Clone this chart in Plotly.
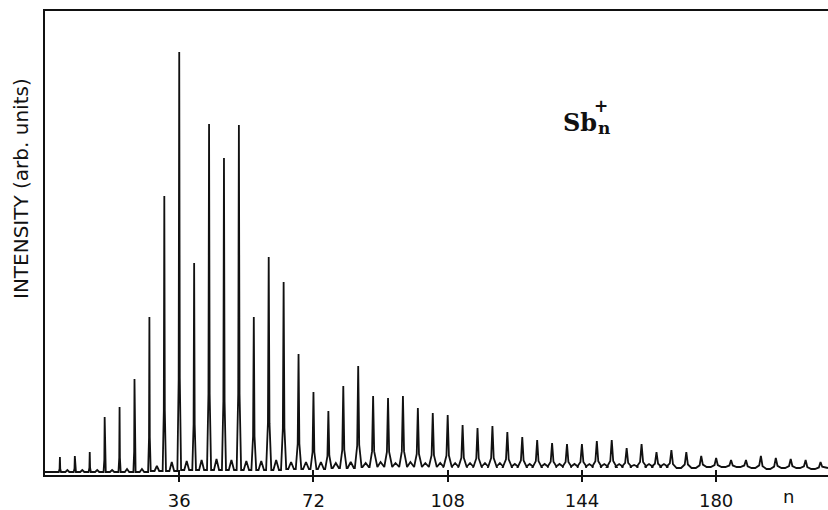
import plotly.graph_objects as go

# ---- data (intensity in arbitrary units) ----
# main cluster peaks
peak_n = [4, 8, 12, 16, 20, 24, 28, 32, 36, 40, 44, 48, 52, 56, 60, 64, 68, 72, 76, 80,
          84, 88, 92, 96, 100, 104, 108, 112, 116, 120, 124, 128, 132, 136, 140, 144, 148,
          152, 156, 160, 164, 168, 172, 176, 180, 184, 188, 192, 196, 200, 204, 208]
peak_height = [18, 19, 23, 58, 68, 96, 158, 279, 423, 212, 351, 317, 350, 158, 218, 193,
               121, 83, 64, 89, 109, 79, 77, 79, 67, 62, 60, 50, 47, 49, 43, 38, 35, 32,
               31, 31, 34, 35, 27, 31, 23, 25, 23, 19, 17, 15, 15, 19, 17, 16, 15, 13]
peak_halfwidth = [0.3, 0.3, 0.3, 0.3, 0.3, 0.3, 0.35, 0.45, 0.5, 0.5, 0.55, 0.55, 0.6,
                  0.65, 0.7, 0.7, 0.75, 0.8, 0.85, 0.9, 0.9, 0.95, 1.0, 1.0, 1.0, 1.05,
                  1.1, 1.1, 1.1, 1.15, 1.2, 1.2, 1.2, 1.25, 1.25, 1.3, 1.3, 1.3, 1.35,
                  1.35, 1.4, 1.4, 1.4, 1.45, 1.45, 1.5, 1.5, 1.5, 1.5, 1.5, 1.5, 1.5]
# baseline level just after each main peak
valley_height = [3, 3, 3, 3, 3, 3, 4, 4, 5, 5, 5, 5, 5, 5, 5, 6, 6, 6, 7, 7, 8, 8, 8, 8,
                 8, 8, 8, 8, 8, 8, 8, 8, 8, 8, 8, 8, 8, 8, 8, 8, 8, 7, 7, 8, 8, 8, 7, 6,
                 7, 7, 6, 7]
# weak intermediate peaks
side_n = [6, 10, 14, 18, 22, 26, 30, 34, 38, 42, 46, 50, 54, 58, 62, 66, 70, 74, 78, 82,
          86, 90, 94, 98, 102, 106, 110, 114, 118, 122, 126, 130, 134, 138, 142, 146,
          150, 154, 158, 162, 166]
side_height = [5, 5, 5, 5, 6, 6, 9, 13, 14, 15, 16, 15, 14, 14, 15, 13, 13, 13, 12, 13,
               12, 13, 12, 13, 12, 12, 12, 12, 12, 12, 11, 11, 11, 11, 11, 11, 11, 11,
               10, 11, 11]

x_ticks = [36, 72, 108, 144, 180]
x_tick_labels = ["36", "72", "108", "144", "180"]

X_RANGE = [0, 210]
Y_RANGE = [0, 464]

# ---- assemble the spectrum polyline from the peak lists ----
side = dict(zip(side_n, side_height))
xs, ys = [X_RANGE[0]], [3]
prev_v = 3
for i, n in enumerate(peak_n):
    h, w, v = peak_height[i], peak_halfwidth[i], valley_height[i]
    xs += [n - w, n - 0.3 * w, n, n + 0.3 * w, n + w]
    ys += [prev_v, prev_v + 0.22 * (h - prev_v), h, v + 0.22 * (h - v), v]
    m = n + 2
    if m in side:
        sw = min(0.5 + 0.004 * m, 1.2)
        xs += [m - sw, m, m + sw]
        ys += [v, side[m], v]
    prev_v = v
xs.append(X_RANGE[1])
ys.append(prev_v)

fig = go.Figure()
fig.add_trace(go.Scatter(x=xs, y=ys, mode="lines",
                         line=dict(color="#111111", width=1.8),
                         hoverinfo="skip", showlegend=False))
# helper trace so the overlaid tick axis is drawn
fig.add_trace(go.Scatter(x=[X_RANGE[0]], y=[0], mode="lines", xaxis="x2",
                         line=dict(color="rgba(0,0,0,0)"), hoverinfo="skip",
                         showlegend=False))

fig.update_layout(
    width=828, height=510,
    margin=dict(l=45, r=0, t=11, b=35, autoexpand=False),
    paper_bgcolor="white", plot_bgcolor="white",
    font=dict(family="DejaVu Sans", color="#111111"),
    xaxis=dict(range=X_RANGE, showgrid=False, zeroline=False, automargin=False,
               showline=True, linecolor="#111111", linewidth=2, mirror=True,
               tickmode="array", tickvals=x_ticks, ticktext=x_tick_labels,
               ticks="outside", ticklen=5, tickwidth=1.5, tickcolor="#111111",
               ticklabelstandoff=3,
               tickfont=dict(family="DejaVu Sans", size=18, color="#111111")),
    xaxis2=dict(range=X_RANGE, overlaying="x", anchor="y", side="bottom",
                automargin=False,
                showgrid=False, zeroline=False, showline=False,
                tickmode="array", tickvals=x_ticks, ticks="inside",
                ticklen=5, tickwidth=1.5, tickcolor="#111111",
                showticklabels=False),
    yaxis=dict(range=Y_RANGE, showgrid=False, zeroline=False, automargin=False,
               showline=True, linecolor="#111111", linewidth=2,
               ticks="", showticklabels=False),
    annotations=[
        dict(text="INTENSITY (arb. units)", textangle=-90, xref="paper", yref="paper",
             x=(21 - 45) / 783, y=(475 - 189) / 464, xanchor="center", yanchor="middle",
             showarrow=False, font=dict(family="DejaVu Sans", size=20, color="#111111")),
        dict(text="n", xref="paper", yref="paper", x=(788 - 45) / 783, y=(475 - 497) / 464,
             xanchor="center", yanchor="middle", showarrow=False,
             font=dict(family="DejaVu Sans", size=18, color="#111111")),
        dict(text="<b>Sb</b>", xref="paper", yref="paper", x=(580 - 45) / 783,
             y=(475 - 122) / 464, xanchor="center", yanchor="middle", showarrow=False,
             font=dict(family="DejaVu Serif", size=24, color="#111111")),
        dict(text="<b>n</b>", xref="paper", yref="paper", x=(604 - 45) / 783,
             y=(475 - 128) / 464, xanchor="center", yanchor="middle", showarrow=False,
             font=dict(family="DejaVu Serif", size=17, color="#111111")),
        dict(text="<b>+</b>", xref="paper", yref="paper", x=(601 - 45) / 783,
             y=(475 - 106) / 464, xanchor="center", yanchor="middle", showarrow=False,
             font=dict(family="DejaVu Sans", size=17, color="#111111")),
    ],
)

fig.write_html("out.html", config={"displayModeBar": False},
               post_script="document.body.style.margin='0';")
